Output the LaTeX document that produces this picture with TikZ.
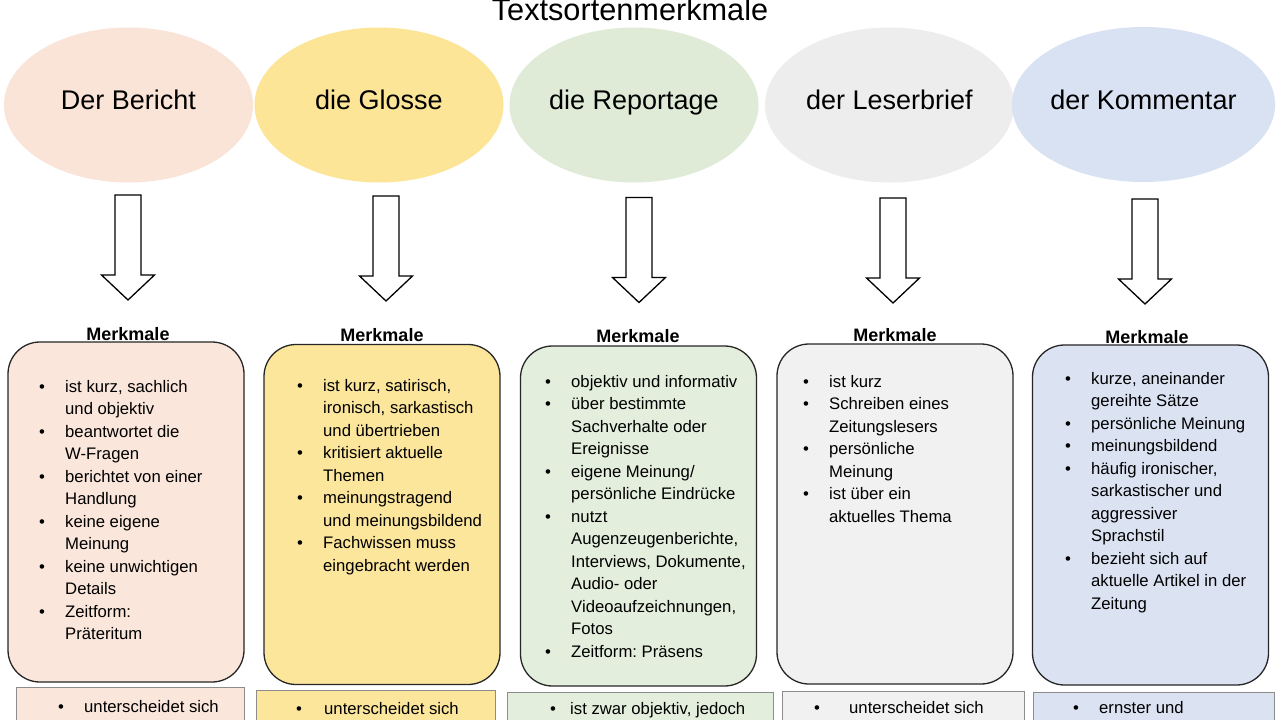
\documentclass[tikz,border=0pt]{standalone}
\usepackage{fontspec}
\setmainfont{Liberation Sans}
\frenchspacing
\usetikzlibrary{shapes.geometric,positioning}

\definecolor{rosa}{HTML}{FAE3D7}
\definecolor{gelb}{HTML}{FCE597}
\definecolor{gruen}{HTML}{DFEBD7}
\definecolor{grau}{HTML}{EDEDED}
\definecolor{blau}{HTML}{D9E2F2}

\tikzset{
  textsorte/.style={ellipse, minimum width=249pt, minimum height=155pt, inner sep=0pt,
    text height=19.5pt, text depth=10pt, font=\fontsize{27}{30}\selectfont},
  pfeil/.style={draw, fill=white, line width=1.3pt, line join=miter},
  titel/.style={font=\bfseries\fontsize{18}{20}\selectfont, inner sep=0pt},
  merkbox/.style={draw=black!85, line width=1.3pt, rounded corners=32pt,
    minimum width=236pt, minimum height=340pt},
  liste/.style={anchor=base west, inner sep=0pt, font=\fontsize{16.7}{22.5}\selectfont},
  unten/.style={draw=black!45, line width=0.6pt, anchor=north west, minimum height=80pt}
}

\begin{document}
\begin{tikzpicture}[x=1pt, y=-1pt]
    \useasboundingbox (0,0) rectangle (1280,720);
    \clip (0,0) rectangle (1280,720);
    \fill[white] (0,0) rectangle (1280,720);

    % Ueberschrift
    \node[anchor=base, inner sep=0pt, font=\fontsize{30.7}{34}\selectfont] (kopf) at (630,20) {Textsortenmerkmale};

    % Textsorten
    \node[textsorte, fill=rosa] (e1) at (128.5,105) {Der Bericht};
    \node[textsorte, fill=gelb] (e2) at (379,105) {die Glosse};
    \node[textsorte, fill=gruen] (e3) at (634,105) {die Reportage};
    \node[textsorte, fill=grau] (e4) at (889.5,105) {der Leserbrief};
    \node[textsorte, fill=blau] (e5) at (1143.5,104.5) {der Kommentar};

    % Pfeile
    \coordinate (a1) at (128,195);
    \coordinate (a2) at (386,196);
    \coordinate (a3) at (639,197.5);
    \coordinate (a4) at (893,198);
    \coordinate (a5) at (1145,199);
    \foreach \p in {a1,a2,a3,a4,a5}
        \draw[pfeil] (\p) ++(-13,0) -- ++(0,80) -- ++(-13.5,0) -- ++(26.5,25)
            -- ++(26.5,-25) -- ++(-13.5,0) -- ++(0,-80) -- cycle;

    % Merkmale-Kaesten
    \node[merkbox, fill=rosa!90!white] (b1) at (126,512) {};
    \node[merkbox, fill=gelb!95!white] (b2) at (382,514.5) {};
    \node[merkbox, fill=gruen!85!white] (b3) at (638.5,516) {};
    \node[merkbox, fill=grau!80!white] (b4) at (895,514) {};
    \node[merkbox, fill=blau!95!white] (b5) at (1150.5,515) {};

    \node[titel] (m1) at (128,334) {Merkmale};
    \node[titel] (m2) at (382,335) {Merkmale};
    \node[titel] (m3) at (638,336) {Merkmale};
    \node[titel] (m4) at (895,335) {Merkmale};
    \node[titel] (m5) at (1147,337) {Merkmale};

    \node[liste] (l1) at (39,392) {\begin{tabular}[t]{@{}p{26pt}@{}l@{}}
        \textbullet & ist kurz, sachlich\\ & und objektiv\\
        \textbullet & beantwortet die\\ & W-Fragen\\
        \textbullet & berichtet von einer\\ & Handlung\\
        \textbullet & keine eigene\\ & Meinung\\
        \textbullet & keine unwichtigen\\ & Details\\
        \textbullet & Zeitform:\\ & Präteritum
    \end{tabular}};
    \node[liste] (l2) at (297,391) {\begin{tabular}[t]{@{}p{26pt}@{}l@{}}
        \textbullet & ist kurz, satirisch,\\ & ironisch, sarkastisch\\ & und übertrieben\\
        \textbullet & kritisiert aktuelle\\ & Themen\\
        \textbullet & meinungstragend\\ & und meinungsbildend\\
        \textbullet & Fachwissen muss\\ & eingebracht werden
    \end{tabular}};
    \node[liste] (l3) at (545,387) {\begin{tabular}[t]{@{}p{26pt}@{}l@{}}
        \textbullet & objektiv und informativ\\
        \textbullet & über bestimmte\\ & Sachverhalte oder\\ & Ereignisse\\
        \textbullet & eigene Meinung/\\ & persönliche Eindrücke\\
        \textbullet & nutzt\\ & Augenzeugenberichte,\\ & Interviews, Dokumente,\\ & Audio- oder\\ & Videoaufzeichnungen,\\ & Fotos\\
        \textbullet & Zeitform: Präsens
    \end{tabular}};
    \node[liste] (l4) at (803,387) {\begin{tabular}[t]{@{}p{26pt}@{}l@{}}
        \textbullet & ist kurz\\
        \textbullet & Schreiben eines\\ & Zeitungslesers\\
        \textbullet & persönliche\\ & Meinung\\
        \textbullet & ist über ein\\ & aktuelles Thema
    \end{tabular}};
    \node[liste] (l5) at (1065,384) {\begin{tabular}[t]{@{}p{26pt}@{}l@{}}
        \textbullet & kurze, aneinander\\ & gereihte Sätze\\
        \textbullet & persönliche Meinung\\
        \textbullet & meinungsbildend\\
        \textbullet & häufig ironischer,\\ & sarkastischer und\\ & aggressiver\\ & Sprachstil\\
        \textbullet & bezieht sich auf\\ & aktuelle Artikel in der\\ & Zeitung
    \end{tabular}};

    % untere Kaesten
    \node[unten, fill=rosa!90!white, minimum width=228pt] (u1) at (16,687) {};
    \node[unten, fill=gelb!95!white, minimum width=239pt] (u2) at (256,690) {};
    \node[unten, fill=gruen!85!white, minimum width=266pt] (u3) at (507,692) {};
    \node[unten, fill=grau!80!white, minimum width=242pt] (u4) at (782,691) {};
    \node[unten, fill=blau!95!white, minimum width=241pt] (u5) at (1033,692) {};

    \node[liste] (t1) at (58,712) {\makebox[26pt][l]{\textbullet}unterscheidet sich};
    \node[liste] (t2) at (296,714) {\makebox[28pt][l]{\textbullet}unterscheidet sich};
    \node[liste] (t3) at (550,714) {\makebox[20pt][l]{\textbullet}ist zwar objektiv, jedoch};
    \node[liste] (t4) at (814,713) {\makebox[35pt][l]{\textbullet}unterscheidet sich};
    \node[liste] (t5) at (1073,713) {\makebox[26pt][l]{\textbullet}ernster und};
\end{tikzpicture}
\end{document}
